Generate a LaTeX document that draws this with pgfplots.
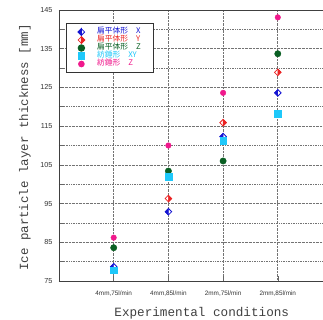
\documentclass[border=0pt]{standalone}
\usepackage{pgfplots}
\pgfplotsset{compat=1.18}
\usepackage{fontspec}
\setmainfont{Liberation Mono}
\newfontfamily\sans{Liberation Sans}
\newfontfamily\cjk{Noto Sans CJK JP}
\definecolor{cX}{RGB}{20,20,210}
\definecolor{cY}{RGB}{235,35,35}
\definecolor{cZ}{RGB}{10,95,35}
\definecolor{cXY}{RGB}{30,200,250}
\definecolor{cPZ}{RGB}{240,25,140}
\pgfdeclareplotmark{hdblue}{%
  \fill[white] (0pt,\pgfplotmarksize) -- (\pgfplotmarksize,0pt) -- (0pt,-\pgfplotmarksize) -- (-\pgfplotmarksize,0pt) -- cycle;
  \fill[cX] (0pt,\pgfplotmarksize) -- (-\pgfplotmarksize,0pt) -- (0pt,-\pgfplotmarksize) -- cycle;
  \draw[cX,line width=0.8pt] (0pt,\pgfplotmarksize) -- (\pgfplotmarksize,0pt) -- (0pt,-\pgfplotmarksize) -- (-\pgfplotmarksize,0pt) -- cycle;
}
\pgfdeclareplotmark{hdred}{%
  \fill[white] (0pt,\pgfplotmarksize) -- (\pgfplotmarksize,0pt) -- (0pt,-\pgfplotmarksize) -- (-\pgfplotmarksize,0pt) -- cycle;
  \fill[cY] (0pt,\pgfplotmarksize) -- (\pgfplotmarksize,0pt) -- (0pt,-\pgfplotmarksize) -- cycle;
  \draw[cY,line width=0.8pt] (0pt,\pgfplotmarksize) -- (\pgfplotmarksize,0pt) -- (0pt,-\pgfplotmarksize) -- (-\pgfplotmarksize,0pt) -- cycle;
}
\newcommand{\legtxt}[2]{\hspace{10bp}\textcolor{#1}{#2}}
\begin{document}
\begin{tikzpicture}
\useasboundingbox (-59bp,-39bp) rectangle (264bp,281bp);
\clip (-59bp,-39bp) rectangle (264bp,281bp);
\begin{axis}[
  scale only axis, width=273.5bp, height=271bp,
  xmin=0, xmax=5, ymin=75, ymax=145,
  xtick={1,2,3,4},
  xticklabels={{4mm,75l/min},{4mm,85l/min},{2mm,75l/min},{2mm,85l/min}},
  ytick={75,85,...,145},
  minor ytick={80,90,...,140},
  grid=both,
  grid style={densely dotted, black!55, line width=0.7pt},
  minor grid style={densely dotted, black!55, line width=0.7pt},
  axis line style={black!75, line width=0.9pt},
  tick pos=left,
  tick align=inside,
  major tick length=5bp,
  minor tick length=5bp,
  tick style={black!60, line width=0.6pt},
  xticklabel style={font=\sans\fontsize{6.4}{7}\selectfont, text=black!80, yshift=-6bp},
  yticklabel style={font=\sans\fontsize{7.3}{8}\selectfont, text=black!80,
    /pgf/number format/assume math mode=true, xshift=-3bp},
  xlabel={Experimental conditions},
  ylabel={Ice particle layer thickness [mm]},
  every axis x label/.style={at={(axis description cs:0.5,0)}, xshift=6bp, yshift=-32bp, anchor=center,
    font=\fontsize{12.7}{14}\selectfont, text=black!75},
  every axis y label/.style={at={(axis description cs:0,0.5)}, xshift=-34bp, yshift=-2bp, rotate=90, anchor=center,
    font=\fontsize{12.5}{14}\selectfont, text=black!75},
  legend style={at={(axis description cs:0.026,0.952)}, anchor=north west, draw=black!80, line width=1pt, fill=white,
    font=\cjk\fontsize{7.8}{8}\selectfont, row sep=0pt, inner xsep=11bp, inner ysep=4.5bp,
    nodes={inner ysep=0pt, text height=5.8bp, text depth=2.2bp}},
  legend cell align=left,
]
\addplot[only marks, mark=hdblue, mark size=3.3pt, cX] coordinates {(1,78.7) (2,92.9) (3,112.3) (4,123.6)};
\addlegendentry{\legtxt{cX}{扁平体形　X}}
\addplot[only marks, mark=hdred, mark size=3.3pt, cY] coordinates {(2,96.3) (3,115.9) (4,128.9)};
\addlegendentry{\legtxt{cY}{扁平体形　Y}}
\addplot[only marks, mark=*, mark size=3.2pt, cZ, mark options={fill=cZ, draw=cZ}] coordinates {(1,83.6) (2,103.4) (3,106.0) (4,133.7)};
\addlegendentry{\legtxt{cZ}{扁平体形　Z}}
\addplot[only marks, mark=square*, mark size=3.4pt, cXY, mark options={fill=cXY, draw=cXY}] coordinates {(1,77.8) (2,101.9) (3,111.3) (4,118.3)};
\addlegendentry{\legtxt{cXY}{紡錘形　XY}}
\addplot[only marks, mark=*, mark size=2.8pt, cPZ, mark options={fill=cPZ, draw=cPZ}] coordinates {(1,86.2) (2,110.0) (3,123.6) (4,143.1)};
\addlegendentry{\legtxt{cPZ}{紡錘形　Z}}
\end{axis}
\end{tikzpicture}
\end{document}
